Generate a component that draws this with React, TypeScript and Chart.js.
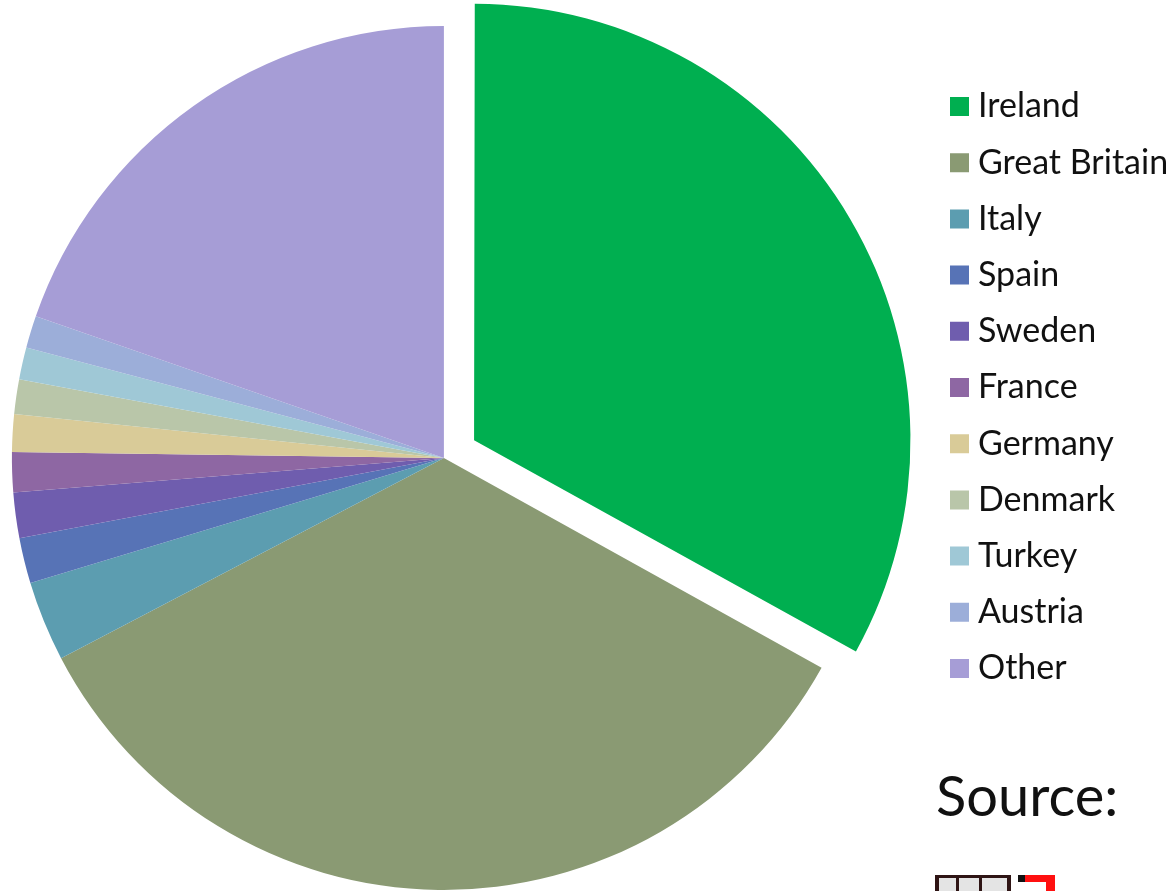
import React, { useEffect, useRef } from "react";
import { Chart, registerables } from "chart.js";

Chart.register(...registerables);

const categories = [
  "Ireland",
  "Great Britain",
  "Italy",
  "Spain",
  "Sweden",
  "France",
  "Germany",
  "Denmark",
  "Turkey",
  "Austria",
  "Other",
];
const shares = [33.1, 34.3, 3.0, 1.7, 1.7, 1.5, 1.4, 1.3, 1.2, 1.2, 19.7];
const sliceColors = [
  "#00AF50",
  "#8A9A73",
  "#5C9DB0",
  "#5773B6",
  "#6F5DAE",
  "#8E67A3",
  "#D9CB98",
  "#B9C6A9",
  "#9FC8D6",
  "#9CAED9",
  "#A69DD6",
];
const sourceLabel = "Source:";

const FONT = "Lato, 'Open Sans', sans-serif";

export default function App() {
  const canvasRef = useRef<HTMLCanvasElement | null>(null);

  useEffect(() => {
    if (!canvasRef.current) return;
    const chart = new Chart(canvasRef.current, {
      type: "pie",
      data: {
        labels: categories,
        datasets: [
          {
            data: shares,
            backgroundColor: sliceColors,
            borderWidth: 0,
            radius: 432,
            offset: (ctx: any) => (ctx.dataIndex === 0 ? 140 : 0),
            hoverOffset: 0,
          } as any,
        ],
      },
      options: {
        animation: false,
        responsive: true,
        maintainAspectRatio: false,
        layout: { padding: { left: 0, top: 67.3, bottom: 42.3, right: 0 } },
        plugins: {
          tooltip: { enabled: false },
          legend: {
            display: true,
            position: "right",
            align: "start",
            maxWidth: 238.2,
            labels: {
              usePointStyle: true,
              pointStyle: "rect",
              boxWidth: 3,
              boxHeight: 19,
              padding: 22.2,
              color: "#111111",
              font: { family: FONT, size: 34 },
            },
          },
        },
      } as any,
    });
    return () => chart.destroy();
  }, []);

  return (
    <div
      style={{
        position: "fixed",
        left: 0,
        top: 0,
        width: 1174,
        height: 891,
        overflow: "hidden",
        background: "#ffffff",
      }}
    >
      <div style={{ position: "absolute", left: -48, top: 0, width: 1222, height: 891 }}>
        <canvas ref={canvasRef} />
      </div>
      <div
        style={{
          position: "absolute",
          left: 936,
          top: 767,
          fontFamily: FONT,
          fontSize: 56,
          lineHeight: "56px",
          color: "#111111",
          whiteSpace: "nowrap",
        }}
      >
        {sourceLabel}
      </div>
      <div style={{ position: "absolute", left: 935, top: 875, width: 76, height: 20, background: "#2e1414" }}>
        <div style={{ position: "absolute", left: 4, top: 3, width: 68, height: 17, background: "#e4e4e4" }} />
        <div style={{ position: "absolute", left: 21, top: 3, width: 3, height: 17, background: "#2e1414" }} />
        <div style={{ position: "absolute", left: 44, top: 3, width: 3, height: 17, background: "#2e1414" }} />
      </div>
      <div style={{ position: "absolute", left: 1018, top: 875, width: 7, height: 7, background: "#111111" }} />
      <div style={{ position: "absolute", left: 1025, top: 875, width: 30, height: 7, background: "#ff1010" }} />
      <div style={{ position: "absolute", left: 1046, top: 875, width: 9, height: 20, background: "#ff1010" }} />
    </div>
  );
}
